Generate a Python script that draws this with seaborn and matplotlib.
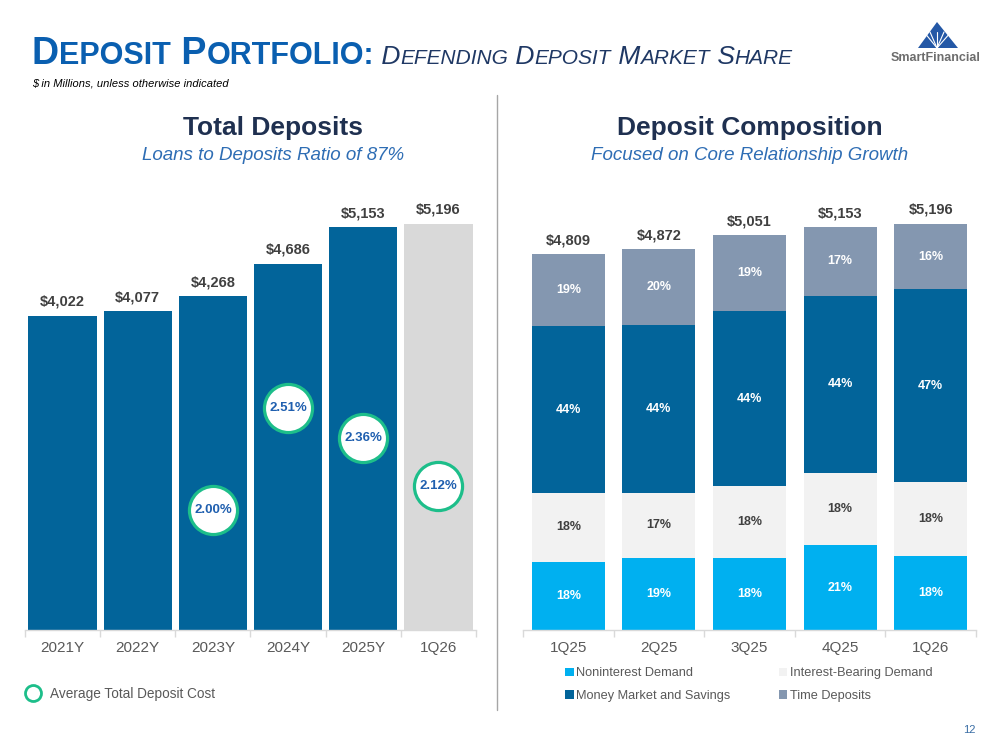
import matplotlib
matplotlib.use("Agg")
import matplotlib.pyplot as plt
import seaborn as sns
import numpy as np
import pandas as pd
from matplotlib.patches import Patch, Polygon
from matplotlib.lines import Line2D

# ---------------- data ----------------
years = ["2021Y", "2022Y", "2023Y", "2024Y", "2025Y", "1Q26"]
total_deposits = [4022, 4077, 4268, 4686, 5153, 5196]
cost_periods = ["2023Y", "2024Y", "2025Y", "1Q26"]
deposit_cost = [2.00, 2.51, 2.36, 2.12]

quarters = ["1Q25", "2Q25", "3Q25", "4Q25", "1Q26"]
quarter_totals = [4809, 4872, 5051, 5153, 5196]
nonint_demand = [18, 19, 18, 21, 18]
int_bearing = [18, 17, 18, 18, 18]
mm_savings = [44, 44, 44, 44, 47]
time_dep = [19, 20, 19, 17, 16]
series_names = ["Noninterest Demand", "Interest-Bearing Demand",
                "Money Market and Savings", "Time Deposits"]

# ---------------- style ----------------
BLUE = "#02649A"
GRAY = "#D9D9D9"
CYAN = "#00B0F0"
LIGHT = "#F2F2F2"
SLATE = "#8497B0"
GREEN = "#1DBE8A"
LABEL = "#404040"
TICK = "#595959"
NAVY = "#1F3050"
SUBBLUE = "#2E6DB4"

sns.set_theme(style="white")
plt.rcParams['font.family'] = ['Liberation Sans', 'DejaVu Sans']

W, H = 999, 750
fig = plt.figure(figsize=(W / 100, H / 100), dpi=100)
fig.patch.set_facecolor("white")


def fx(px):
    return px / W


def fy(py):
    return 1 - py / H


def style_axis(ax, n):
    ax.set_xlim(-0.5, n - 0.5)
    ax.set_ylim(0, 5500)
    for s in ["left", "top", "right"]:
        ax.spines[s].set_visible(False)
    ax.spines["bottom"].set_color("#D9D9D9")
    ax.spines["bottom"].set_linewidth(1.0)
    ax.set_yticks([])
    ax.set_xticks(range(n))
    ax.set_xticks(np.arange(-0.5, n, 1.0), minor=True)
    ax.tick_params(axis="x", which="major", length=0, pad=8, labelsize=11, labelcolor=TICK)
    ax.tick_params(axis="x", which="minor", length=5, width=1.0, color="#D9D9D9", bottom=True)
    ax.set_xlabel("")
    ax.set_ylabel("")
    ax.set_facecolor("white")
    ax.grid(False)


# ---------------- left chart ----------------
ax1 = fig.add_axes([fx(25), 120 / H, 451 / W, 430 / H])
df1 = pd.DataFrame({"period": years, "total": total_deposits})
sns.barplot(data=df1, x="period", y="total", hue="period",
            palette=[BLUE] * 5 + [GRAY], legend=False, width=0.91,
            saturation=1, linewidth=0, ax=ax1)
style_axis(ax1, len(years))
ax1.set_xticklabels(years)
for i, v in enumerate(total_deposits):
    ax1.annotate(f"${v:,}", (i, v), xytext=(0, 5), textcoords="offset points",
                 ha="center", va="bottom", fontsize=10.5, fontweight="bold", color=LABEL)

ax1b = ax1.twinx()
cost_x = [years.index(p) for p in cost_periods]
sns.scatterplot(x=cost_x, y=deposit_cost, ax=ax1b, s=1200, color="white",
                edgecolor=GREEN, linewidth=2.3, zorder=5, legend=False)
ax1b.set_ylim(1.40, 3.55)
ax1b.set_xlim(-0.5, len(years) - 0.5)
ax1b.axis("off")
for x, v in zip(cost_x, deposit_cost):
    ax1b.text(x, v, f"{v:.2f}%", ha="center", va="center", fontsize=9.5,
              fontweight="bold", color="#1F5FAF", zorder=6)

fig.legend(handles=[Line2D([], [], marker="o", linestyle="none", markersize=11.5,
                           markerfacecolor="white", markeredgecolor=GREEN,
                           markeredgewidth=2)],
           labels=["Average Total Deposit Cost"], loc="upper left",
           bbox_to_anchor=(fx(19), fy(680)), frameon=False, fontsize=9.8,
           handletextpad=0.75, borderpad=0, handlelength=1.0, labelcolor=TICK)

# ---------------- right chart ----------------
ax2 = fig.add_axes([fx(523), 120 / H, 453 / W, 430 / H])
pcts = np.array([nonint_demand, int_bearing, mm_savings, time_dep], dtype=float)
tot = np.array(quarter_totals, dtype=float)
segs = pcts / pcts.sum(axis=0) * tot
cums = np.cumsum(segs, axis=0)
seg_colors = [CYAN, LIGHT, BLUE, SLATE]
for k in range(3, -1, -1):
    sns.barplot(x=quarters, y=cums[k], color=seg_colors[k], width=0.805,
                saturation=1, linewidth=0, ax=ax2)
style_axis(ax2, len(quarters))
ax2.set_xticklabels(quarters)

for j in range(len(quarters)):
    for k in range(4):
        bottom = cums[k][j] - segs[k][j]
        ax2.text(j, bottom + segs[k][j] / 2, f"{int(pcts[k][j])}%", ha="center", va="center",
                 fontsize=9, fontweight="bold", color=(LABEL if k == 1 else "white"))
    ax2.annotate(f"${quarter_totals[j]:,}", (j, quarter_totals[j]), xytext=(0, 5),
                 textcoords="offset points", ha="center", va="bottom",
                 fontsize=10.5, fontweight="bold", color=LABEL)

handles = [Patch(facecolor=c, edgecolor="none") for c in seg_colors]
order = [0, 2, 1, 3]
fig.legend(handles=[handles[i] for i in order], labels=[series_names[i] for i in order],
           loc="upper left", bbox_to_anchor=(fx(559), fy(661)), ncol=2, frameon=False,
           fontsize=9.2, handlelength=0.65, handleheight=0.65, handletextpad=0.2,
           columnspacing=3.8, labelspacing=0.85, borderpad=0, labelcolor=TICK)

# ---------------- headings ----------------
fig.text(fx(273), fy(128), "Total Deposits", ha="center", va="center", fontsize=19,
         fontweight="bold", color=NAVY)
fig.text(fx(273), fy(156), "Loans to Deposits Ratio of 87%", ha="center", va="center",
         fontsize=13.5, fontstyle="italic", color=SUBBLUE)
fig.text(fx(750), fy(128), "Deposit Composition", ha="center", va="center", fontsize=19,
         fontweight="bold", color=NAVY)
fig.text(fx(750), fy(156), "Focused on Core Relationship Growth", ha="center", va="center",
         fontsize=13.5, fontstyle="italic", color=SUBBLUE)

# small-caps title
renderer = fig.canvas.get_renderer()


def small_caps(pieces, x0, y0, color, style, weight):
    x = x0
    for txt, size in pieces:
        t = fig.text(fx(x), fy(y0), txt, fontsize=size, color=color, fontstyle=style,
                     fontweight=weight, va="baseline", ha="left")
        x += t.get_window_extent(renderer).width
    return x


xe = small_caps([("D", 27), ("EPOSIT", 22), (" P", 27), ("ORTFOLIO:", 22)], 32, 64,
                "#0A5FB0", "normal", "bold")
small_caps([(" D", 19), ("EFENDING", 15), (" D", 19), ("EPOSIT", 15), (" M", 19),
            ("ARKET", 15), (" S", 19), ("HARE", 15)], xe, 64, "#1F3864", "italic", "normal")

fig.text(fx(32), fy(84), "$ in Millions, unless otherwise indicated", ha="left", va="center",
         fontsize=8, fontstyle="italic", color="black")

# divider
fig.add_artist(Line2D([fx(497), fx(497)], [fy(95), fy(710)], transform=fig.transFigure,
                      color="#A6A6A6", lw=1))

# logo
tri = Polygon([(fx(937), fy(22)), (fx(918), fy(48)), (fx(958), fy(48))], closed=True,
              transform=fig.transFigure, facecolor="#2458A6", edgecolor="none")
fig.add_artist(tri)
for px in [924, 930, 937, 944, 951]:
    fig.add_artist(Line2D([fx(937), fx(px)], [fy(48), fy(32)], transform=fig.transFigure,
                          color="white", lw=0.8))
fig.text(fx(936), fy(58), "SmartFinancial", ha="center", va="center", fontsize=9,
         fontweight="bold", color="#6D6D6D")

fig.text(fx(969), fy(730), "12", ha="center", va="center", fontsize=8, color="#3A6EA5")

fig.savefig("out.png", dpi=100)
